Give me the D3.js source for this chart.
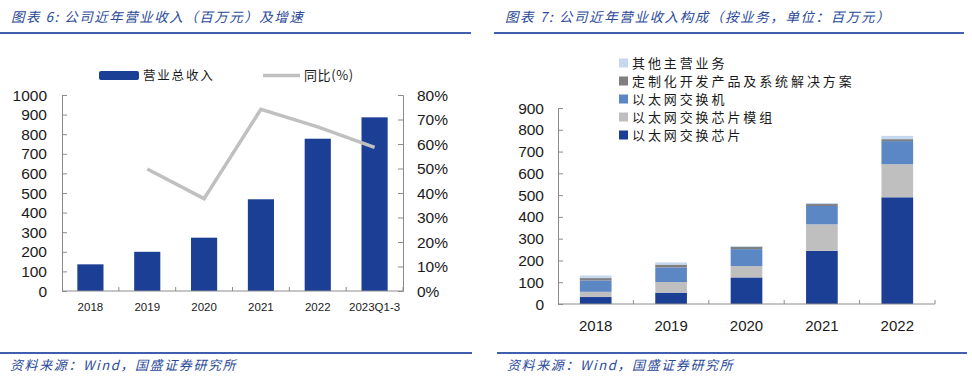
<!DOCTYPE html>
<html>
<head>
<meta charset="utf-8">
<script src="https://cdn.jsdelivr.net/npm/d3@7"></script>
<style>
  body { margin: 0; background: #fff; }
  svg { display: block; }
  .cjk { font-family: "Noto Sans CJK SC", sans-serif; }
  .num { font-family: "Liberation Sans", Arial, sans-serif; }
</style>
</head>
<body>
<div id="chart"></div>
<script>
// données graphique 6 : revenus totaux + croissance
const years1 = ["2018", "2019", "2020", "2021", "2022", "2023Q1-3"];
const revenue = [136, 200, 272, 468, 777, 886];
const growth = [null, 0.498, 0.377, 0.742, 0.67, 0.586];
const ticksLeft = [0, 100, 200, 300, 400, 500, 600, 700, 800, 900, 1000];
const ticksPct = [0, 0.1, 0.2, 0.3, 0.4, 0.5, 0.6, 0.7, 0.8];

// données graphique 7 : composition par activité
const years2 = ["2018", "2019", "2020", "2021", "2022"];
const chip = [32, 52, 122, 244, 490];
const chipModule = [24, 49, 52, 122, 152];
const switches = [52, 67, 78, 84, 106];
const custom = [11, 13, 10, 9, 9];
const other = [12, 10, 4, 5, 15];
const seriesNames = ["以太网交换芯片", "以太网交换芯片模组", "以太网交换机", "定制化开发产品及系统解决方案", "其他主营业务"];
const seriesColors = ["#1b3f94", "#bfbfbf", "#5b87c5", "#7f7f7f", "#c6d8ef"];
const ticksRight = [0, 100, 200, 300, 400, 500, 600, 700, 800, 900];

const blue = "#1b3f94";
const titleBlue = "#2a4a98";
const axisColor = "#8c8c8c";

const svg = d3.select("#chart").append("svg")
    .attr("width", 972)
    .attr("height", 380);

// #region titres et sources
function header(x0, x1, label, spacing) {
    svg.append("text").attr("class", "cjk")
        .attr("x", x0 + 11).attr("y", 22)
        .attr("fill", titleBlue)
        .attr("font-size", 13.5)
        .attr("font-style", "italic")
        .attr("letter-spacing", spacing)
        .text(label);
    svg.append("line")
        .attr("x1", x0).attr("x2", x1)
        .attr("y1", 33).attr("y2", 33)
        .attr("stroke", "#3f5fae").attr("stroke-width", 2);
}
function footer(x0, x1) {
    svg.append("line")
        .attr("x1", x0).attr("x2", x1)
        .attr("y1", 353).attr("y2", 353)
        .attr("stroke", "#3f5fae").attr("stroke-width", 2);
    svg.append("text").attr("class", "cjk")
        .attr("x", x0 + 10).attr("y", 370)
        .attr("fill", titleBlue)
        .attr("font-size", 13)
        .attr("font-style", "italic")
        .attr("letter-spacing", 1.6)
        .text("资料来源：Wind，国盛证券研究所");
}
header(0, 471, "图表 6:  公司近年营业收入（百万元）及增速", 1.5);
header(494, 964, "图表 7:  公司近年营业收入构成（按业务，单位：百万元）", 1.6);
footer(0, 472);
footer(497, 967);
// #endregion

// #region graphique 6
const x1 = d3.scaleBand().domain(years1).range([62, 403])
    .paddingInner(0.54).paddingOuter(0.27);
const yL = d3.scaleLinear().domain([0, 1000]).range([291, 95]);
const yR = d3.scaleLinear().domain([0, 0.8]).range([291, 95]);

const g1 = svg.append("g");

g1.selectAll(".bar")
    .data(years1)
    .join("rect")
    .attr("x", d => x1(d))
    .attr("width", x1.bandwidth())
    .attr("y", (d, i) => yL(revenue[i]))
    .attr("height", (d, i) => yL(0) - yL(revenue[i]))
    .attr("fill", blue);

const line = d3.line()
    .defined(d => d[1] != null)
    .x(d => x1(d[0]) + x1.bandwidth() / 2)
    .y(d => yR(d[1]));
g1.append("path")
    .datum(years1.map((d, i) => [d, growth[i]]))
    .attr("d", line)
    .attr("fill", "none")
    .attr("stroke", "#c0c0c0")
    .attr("stroke-width", 3.5);

// axes
const axL = g1.append("g").attr("transform", "translate(62,0)")
    .call(d3.axisRight(yL).tickValues(ticksLeft).tickSize(5).tickFormat(""));
const axR = g1.append("g").attr("transform", "translate(403,0)")
    .call(d3.axisLeft(yR).tickValues(ticksPct).tickSize(5).tickFormat(""));
[axL, axR].forEach(a => {
    a.select(".domain").attr("stroke", axisColor);
    a.selectAll(".tick line").attr("stroke", axisColor);
});
g1.selectAll(".lbL").data(ticksLeft).join("text")
    .attr("class", "num")
    .attr("x", 47).attr("y", d => yL(d) + 5.5)
    .attr("text-anchor", "end")
    .attr("font-size", 15.5).attr("fill", "#1a1a1a")
    .text(d => d);
g1.selectAll(".lbR").data(ticksPct).join("text")
    .attr("class", "num")
    .attr("x", 417).attr("y", d => yR(d) + 5.5)
    .attr("font-size", 15.5).attr("fill", "#1a1a1a")
    .text(d3.format(".0%"));

const step1 = x1.step();
g1.append("line")
    .attr("x1", 62).attr("x2", 403).attr("y1", 291).attr("y2", 291)
    .attr("stroke", axisColor);
g1.selectAll(".xt").data(d3.range(1, years1.length + 1)).join("line")
    .attr("x1", i => 62 + i * step1).attr("x2", i => 62 + i * step1)
    .attr("y1", 291).attr("y2", 287)
    .attr("stroke", axisColor);
g1.selectAll(".xl").data(years1).join("text")
    .attr("class", "num")
    .attr("x", d => x1(d) + x1.bandwidth() / 2)
    .attr("y", 311)
    .attr("text-anchor", "middle")
    .attr("font-size", 11.5).attr("fill", "#1a1a1a")
    .text(d => d);

// légende
g1.append("rect").attr("x", 99).attr("y", 71).attr("width", 40).attr("height", 9)
    .attr("rx", 2).attr("fill", blue);
g1.append("text").attr("class", "cjk")
    .attr("x", 143).attr("y", 80).attr("font-size", 12.5).attr("letter-spacing", 1.8)
    .attr("fill", "#1a1a1a").text("营业总收入");
g1.append("line").attr("x1", 263).attr("x2", 300).attr("y1", 75.5).attr("y2", 75.5)
    .attr("stroke", "#c0c0c0").attr("stroke-width", 3.5);
g1.append("text").attr("class", "cjk")
    .attr("x", 304).attr("y", 80).attr("font-size", 13).attr("letter-spacing", 0.6)
    .attr("fill", "#1a1a1a").text("同比(%)");
// #endregion

// #region graphique 7
const table = years2.map((d, i) => ({
    year: d, s0: chip[i], s1: chipModule[i], s2: switches[i], s3: custom[i], s4: other[i]
}));
const keys = ["s0", "s1", "s2", "s3", "s4"];
const stacked = d3.stack().keys(keys)(table);

const x2 = d3.scaleBand().domain(years2).range([558, 935])
    .paddingInner(0.58).paddingOuter(0.29);
const y2 = d3.scaleLinear().domain([0, 900]).range([304, 108]);

const g2 = svg.append("g");
g2.selectAll(".layer").data(stacked).join("g")
    .attr("fill", (d, i) => seriesColors[i])
    .selectAll("rect")
    .data(d => d)
    .join("rect")
    .attr("x", d => x2(d.data.year))
    .attr("width", x2.bandwidth())
    .attr("y", d => y2(d[1]))
    .attr("height", d => y2(d[0]) - y2(d[1]));

const ax2 = g2.append("g").attr("transform", "translate(558,0)")
    .call(d3.axisRight(y2).tickValues(ticksRight).tickSize(5).tickFormat(""));
ax2.select(".domain").attr("stroke", axisColor);
ax2.selectAll(".tick line").attr("stroke", axisColor);
g2.selectAll(".lb2").data(ticksRight).join("text")
    .attr("class", "num")
    .attr("x", 544).attr("y", d => y2(d) + 5.5)
    .attr("text-anchor", "end")
    .attr("font-size", 15.5).attr("fill", "#1a1a1a")
    .text(d => d);

const step2 = x2.step();
g2.append("line")
    .attr("x1", 558).attr("x2", 935).attr("y1", 304).attr("y2", 304)
    .attr("stroke", axisColor);
g2.selectAll(".xt2").data(d3.range(1, years2.length + 1)).join("line")
    .attr("x1", i => 558 + i * step2).attr("x2", i => 558 + i * step2)
    .attr("y1", 304).attr("y2", 300)
    .attr("stroke", axisColor);
g2.selectAll(".xl2").data(years2).join("text")
    .attr("class", "num")
    .attr("x", d => x2(d) + x2.bandwidth() / 2)
    .attr("y", 331)
    .attr("text-anchor", "middle")
    .attr("font-size", 15).attr("fill", "#1a1a1a")
    .text(d => d);

// légende (de haut en bas : autres -> puces)
const legendOrder = [4, 3, 2, 1, 0];
const leg = g2.selectAll(".leg").data(legendOrder).join("g")
    .attr("transform", (d, i) => `translate(619,${63 + i * 18})`);
leg.append("rect").attr("x", 0).attr("y", -4.5).attr("width", 9).attr("height", 9)
    .attr("fill", d => seriesColors[d]);
leg.append("text").attr("class", "cjk")
    .attr("x", 13).attr("y", 4.5)
    .attr("font-size", 13).attr("letter-spacing", 2.9)
    .attr("fill", "#1a1a1a")
    .text(d => seriesNames[d]);
// #endregion
</script>
</body>
</html>
